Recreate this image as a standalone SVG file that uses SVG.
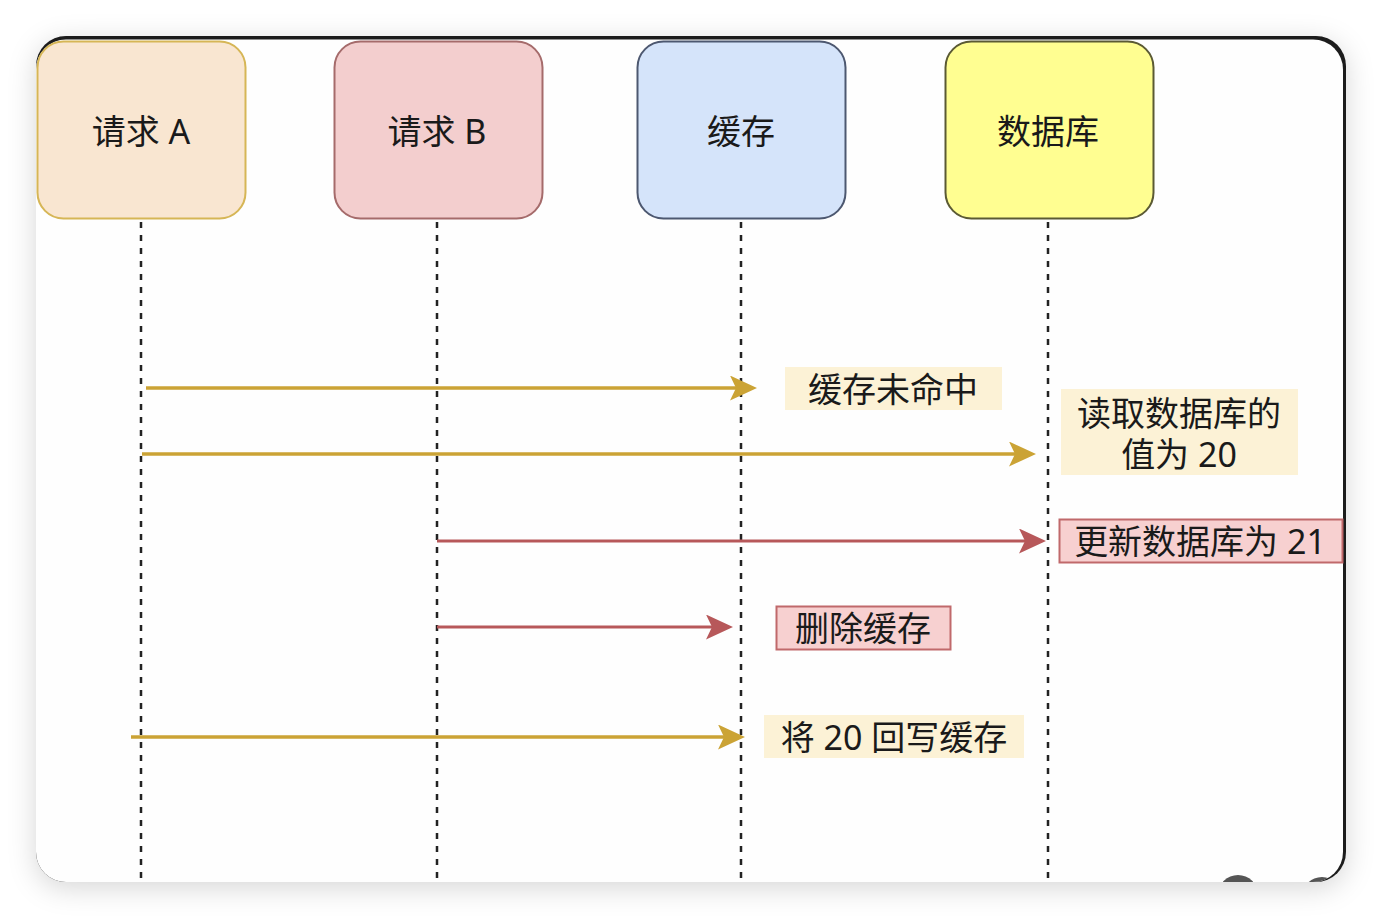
<svg xmlns="http://www.w3.org/2000/svg" width="1382" height="918" viewBox="0 0 1382 918">
<style>
  .t{font-family:"Noto Sans","Noto Sans CJK SC",sans-serif;font-size:34px;fill:#1a1a1a;text-anchor:middle;dominant-baseline:central}
  .life{stroke:#222;stroke-width:2.5;stroke-dasharray:6 7;fill:none}
  .gold{stroke:#cba335;stroke-width:3.5;fill:none}
  .red{stroke:#b7585a;stroke-width:3;fill:none}
</style>
<defs>
  <filter id="sh" x="-10%" y="-10%" width="120%" height="125%">
    <feDropShadow dx="0" dy="6" stdDeviation="14" flood-color="#000" flood-opacity="0.16"/>
  </filter>
  <marker id="ag" markerUnits="userSpaceOnUse" viewBox="0 0 27 25" refX="6" refY="12.5" markerWidth="27" markerHeight="25" orient="auto">
    <path d="M0,0 L27,12.5 L0,25 L6,12.5 Z" fill="#cba335"/>
  </marker>
  <marker id="ar" markerUnits="userSpaceOnUse" viewBox="0 0 27 25" refX="6" refY="12.5" markerWidth="27" markerHeight="25" orient="auto">
    <path d="M0,0 L27,12.5 L0,25 L6,12.5 Z" fill="#b7585a"/>
  </marker>
  <clipPath id="card"><rect x="36" y="39.5" width="1307" height="842.5" rx="30"/></clipPath>
</defs>
<rect width="1382" height="918" fill="#ffffff"/>
<g id="frame">
  <rect x="36" y="36" width="1310" height="846" rx="30" fill="#1b1b1b" filter="url(#sh)"/>
  <rect x="36" y="39.5" width="1307" height="842.5" rx="30" fill="#fefefe"/>
  <g clip-path="url(#card)" fill="#555">
    <circle cx="1238" cy="895" r="20"/>
    <circle cx="1322" cy="897" r="20"/>
  </g>
</g>
<g id="lifelines">
  <line class="life" x1="141" y1="222" x2="141" y2="882"/>
  <line class="life" x1="437" y1="222" x2="437" y2="882"/>
  <line class="life" x1="741" y1="222" x2="741" y2="882"/>
  <line class="life" x1="1048" y1="222" x2="1048" y2="882"/>
</g>
<g id="node-a">
  <rect x="37.5" y="41.5" width="208" height="177" rx="26" fill="#f9e6d1" stroke="#d6b656" stroke-width="2"/>
  <text class="t" x="141" y="131">请求 A</text>
</g>
<g id="node-b">
  <rect x="334.5" y="41.5" width="208" height="177" rx="26" fill="#f3cece" stroke="#a56b6b" stroke-width="2"/>
  <text class="t" x="437" y="131">请求 B</text>
</g>
<g id="node-cache">
  <rect x="637.5" y="41.5" width="208" height="177" rx="26" fill="#d5e4fa" stroke="#4d5870" stroke-width="2"/>
  <text class="t" x="741" y="131">缓存</text>
</g>
<g id="node-db">
  <rect x="945.5" y="41.5" width="208" height="177" rx="26" fill="#fffe91" stroke="#5b5a34" stroke-width="2"/>
  <text class="t" x="1048" y="131">数据库</text>
</g>
<g id="connectors">
  <line class="gold" x1="146" y1="388" x2="736" y2="388" marker-end="url(#ag)"/>
  <line class="gold" x1="142" y1="454" x2="1015" y2="454" marker-end="url(#ag)"/>
  <line class="red" x1="437" y1="541" x2="1025" y2="541" marker-end="url(#ar)"/>
  <line class="red" x1="437" y1="627" x2="712" y2="627" marker-end="url(#ar)"/>
  <line class="gold" x1="131" y1="737" x2="724" y2="737" marker-end="url(#ag)"/>
</g>
<g id="label-miss">
  <rect x="785" y="367" width="217" height="43" fill="#fcf2d6"/>
  <text class="t" x="893" y="389">缓存未命中</text>
</g>
<g id="label-read">
  <rect x="1061" y="389" width="237" height="86" fill="#fcf2d6"/>
  <text class="t" x="1179" y="413">读取数据库的</text>
  <text class="t" x="1179" y="454">值为 20</text>
</g>
<g id="label-update">
  <rect x="1059.5" y="519.5" width="283" height="43" fill="#f7d0d0" stroke="#c0696b" stroke-width="2"/>
  <text class="t" x="1200" y="541">更新数据库为 21</text>
</g>
<g id="label-delete">
  <rect x="776.5" y="606.5" width="174" height="43" fill="#f7d0d0" stroke="#c0696b" stroke-width="2"/>
  <text class="t" x="863" y="628">删除缓存</text>
</g>
<g id="label-write">
  <rect x="764" y="715" width="260" height="43" fill="#fcf2d6"/>
  <text class="t" x="894" y="737">将 20 回写缓存</text>
</g>
</svg>
